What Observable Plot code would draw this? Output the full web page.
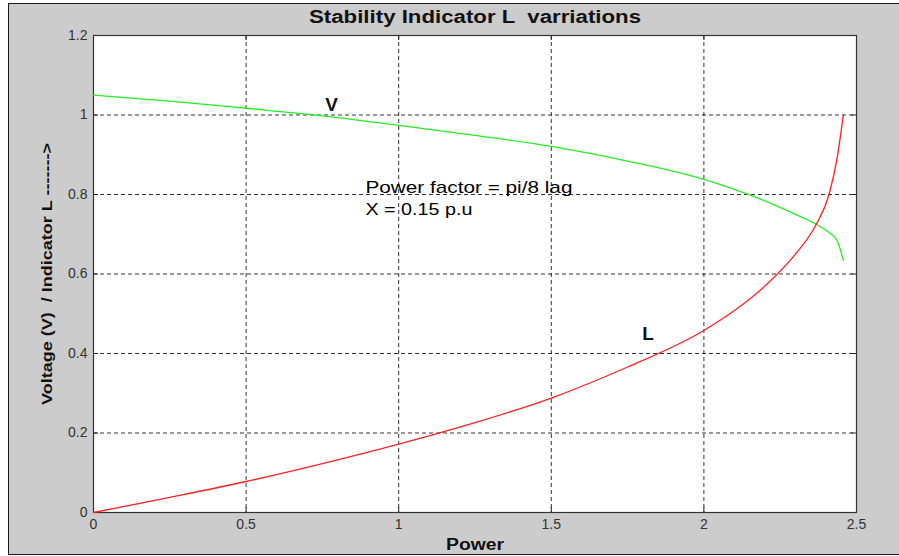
<!DOCTYPE html>
<html>
<head>
<meta charset="utf-8">
<script src="https://cdn.jsdelivr.net/npm/d3@7"></script>
<script src="https://cdn.jsdelivr.net/npm/@observablehq/plot@0.6"></script>
<style>
  html, body { margin: 0; padding: 0; background: #fff; overflow: hidden; }
  #fig { position: absolute; left: 8px; top: 3px; width: 900px; height: 550px;
         background: #cccccc; border: 1.5px solid #1a1a1a; border-right: none; }
  #chart { position: absolute; left: 0; top: 0; }
  text { white-space: pre; }
</style>
</head>
<body>
<div id="fig"></div>
<div id="chart"></div>
<script>
// Voltage V against delivered power
const powerV  = [0, 0.25, 0.5, 0.75, 1.0, 1.25, 1.5, 1.75, 2.0, 2.1, 2.2, 2.3, 2.366, 2.4, 2.437, 2.457];
const voltage = [1.05, 1.035, 1.017, 0.998, 0.974, 0.949, 0.921, 0.884, 0.838, 0.813, 0.784, 0.750, 0.726, 0.71, 0.683, 0.634];

// Stability indicator L against delivered power
const powerL     = [0, 0.25, 0.5, 0.75, 1.0, 1.25, 1.5, 1.75, 2.0, 2.1, 2.2, 2.3, 2.366, 2.41, 2.437, 2.453, 2.457];
const indicatorL = [0, 0.038, 0.078, 0.123, 0.172, 0.226, 0.288, 0.366, 0.458, 0.508, 0.57, 0.65, 0.722, 0.8, 0.894, 0.978, 1.0];

const xTicks = [0, 0.5, 1, 1.5, 2, 2.5];
const yTicks = [0, 0.2, 0.4, 0.6, 0.8, 1, 1.2];

const titleText = "Stability Indicator L  varriations";
const xLabel = "Power";
const yLabel = "Voltage (V)  / Indicator L ------->";
const noteLines = ["Power factor = pi/8 lag", "X = 0.15 p.u"];
const noteX = 0.891;
const noteY = [0.818, 0.761];
const curveLabels = [
  {name: "V", p: 0.780, v: 1.026},
  {name: "L", p: 1.817, v: 0.450}
];

const W = 899, H = 556;
const mL = 93, mR = 43, mT = 35, mB = 44;
const frameW = W - mL - mR, frameH = H - mT - mB;
const tick = 5;

const vData = powerV.map((p, i) => ({p, v: voltage[i]}));
const lData = powerL.map((p, i) => ({p, v: indicatorL[i]}));
const noteData = noteLines.map((t, i) => ({t, p: noteX, v: noteY[i]}));

const chart = Plot.plot({
  width: W, height: H,
  marginLeft: mL, marginRight: mR, marginTop: mT, marginBottom: mB,
  style: {background: "transparent", fontFamily: "'Liberation Sans', Arial, sans-serif", overflow: "visible"},
  x: {domain: [0, 2.5], label: null},
  y: {domain: [0, 1.2], label: null},
  marks: [
    Plot.frame({fill: "white", stroke: null}),
    Plot.gridX(xTicks.slice(1, -1), {stroke: "#000", strokeOpacity: 0.8, strokeDasharray: "4,3"}),
    Plot.gridY(yTicks.slice(1, -1), {stroke: "#000", strokeOpacity: 0.8, strokeDasharray: "4,3"}),
    // inward tick marks on all four sides
    Plot.ruleX(xTicks, {stroke: "#222", insetTop: frameH - tick}),
    Plot.ruleX(xTicks, {stroke: "#222", insetBottom: frameH - tick}),
    Plot.ruleY(yTicks, {stroke: "#222", insetRight: frameW - tick}),
    Plot.ruleY(yTicks, {stroke: "#222", insetLeft: frameW - tick}),
    Plot.frame({stroke: "#333", strokeWidth: 1.2}),
    Plot.line(vData, {x: "p", y: "v", stroke: "#22ee22", strokeWidth: 1.3, curve: "monotone-x"}),
    Plot.line(lData, {x: "p", y: "v", stroke: "#ff2020", strokeWidth: 1.3, curve: "monotone-x"}),
    Plot.axisX(xTicks, {tickSize: 0, tickPadding: 7, fontSize: 14, fill: "#333", label: null, tickFormat: d => String(d)}),
    Plot.axisY(yTicks, {tickSize: 0, tickPadding: 6, fontSize: 14, fill: "#333", label: null, tickFormat: d => String(d)}),
    Plot.text(noteData, {x: "p", y: "v", text: "t", textAnchor: "start", fontSize: 17, fill: "#000"}),
    Plot.text(curveLabels, {x: "p", y: "v", text: "name", fontSize: 19, fontWeight: "bold", fill: "#111"}),
    Plot.text([titleText], {frameAnchor: "top", dy: -25, fontSize: 18, fontWeight: "bold", fill: "#111"}),
    Plot.text([xLabel], {frameAnchor: "bottom", dy: 37, fontSize: 16, fontWeight: "bold", fill: "#111"}),
    Plot.text([yLabel], {frameAnchor: "left", textAnchor: "middle", dx: -46, rotate: -90, fontSize: 15, fontWeight: "bold", fill: "#111"})
  ]
});

document.getElementById("chart").appendChild(chart);

// widen the labels to the figure's wide lettering
const stretch = new Map([
  [titleText, 332],
  [noteLines[0], 207],
  [noteLines[1], 107],
  [xLabel, 58],
  [yLabel, 262]
]);
d3.select(chart).selectAll("text").each(function () {
  const w = stretch.get(this.textContent);
  if (w) {
    this.setAttribute("textLength", w);
    this.setAttribute("lengthAdjust", "spacingAndGlyphs");
  }
});
</script>
</body>
</html>
